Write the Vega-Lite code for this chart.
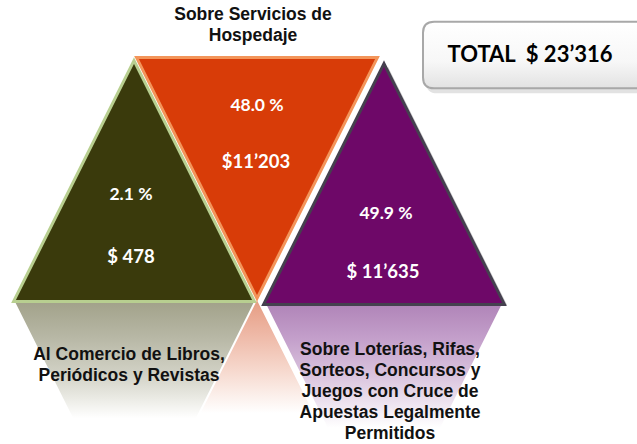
{
  "$schema": "https://vega.github.io/schema/vega-lite/v6.json",
  "width": 637,
  "height": 444,
  "autosize": {"type": "none"},
  "padding": 0,
  "background": "white",
  "config": {"view": {"stroke": null}},
  "datasets": {
    "cats": [
      {"slot": 0, "cat": "Libros", "dir": "up", "pct": "2.1 %", "amount": "$ 478", "value": 478, "label": "Al Comercio de Libros,\nPeriódicos y Revistas"},
      {"slot": 1, "cat": "Hospedaje", "dir": "down", "pct": "48.0 %", "amount": "$11’203", "value": 11203, "label": "Sobre Servicios de\nHospedaje"},
      {"slot": 2, "cat": "Loterias", "dir": "up", "pct": "49.9 %", "amount": "$ 11’635", "value": 11635, "label": "Sobre Loterías, Rifas,\nSorteos, Concursos y\nJuegos con Cruce de\nApuestas Legalmente\nPermitidos"}
    ],
    "total": [{"name": "TOTAL", "text": "TOTAL\u00a0 $ 23’316", "value": 23316}]
  },
  "resolve": {"scale": {"x": "independent", "y": "independent", "color": "independent", "shape": "independent", "stroke": "independent"}},
  "layer": [
    {
      "data": {"name": "cats"},
      "transform": [{"filter": "datum.slot == 0"}],
      "mark": {"type": "point", "filled": true, "shape": "M-1,-1L1,-1L0,1Z", "size": 58564, "clip": true, "opacity": 1, "stroke": "white", "strokeWidth": 2,
        "fill": {"gradient": "linear", "x1": 0, "y1": 0, "x2": 0, "y2": 1, "stops": [{"offset": 0, "color": "#a2a28a"}, {"offset": 0.15, "color": "#b8b8a6"}, {"offset": 0.3, "color": "#d2d2c6"}, {"offset": 0.4, "color": "#ebebe5"}, {"offset": 0.48, "color": "#ffffff"}]}},
      "encoding": {
        "x": {"field": "slot", "type": "quantitative", "scale": {"domain": [0, 1], "range": [135, 260]}, "axis": null},
        "y": {"field": "slot", "type": "quantitative", "scale": {"domain": [0, 1], "range": [423, 423]}, "axis": null}
      }
    },
    {
      "data": {"name": "cats"},
      "transform": [{"filter": "datum.slot == 1"}],
      "mark": {"type": "point", "filled": true, "shape": "M0,-1L1,1L-1,1Z", "size": 57600, "clip": true, "opacity": 1, "stroke": "white", "strokeWidth": 2,
        "fill": {"gradient": "linear", "x1": 0, "y1": 0, "x2": 0, "y2": 1, "stops": [{"offset": 0, "color": "#e59a80"}, {"offset": 0.15, "color": "#eeb8a6"}, {"offset": 0.3, "color": "#f6d8cd"}, {"offset": 0.4, "color": "#fbeee9"}, {"offset": 0.48, "color": "#ffffff"}]}},
      "encoding": {
        "x": {"field": "slot", "type": "quantitative", "scale": {"domain": [1, 2], "range": [257, 384]}, "axis": null},
        "y": {"field": "slot", "type": "quantitative", "scale": {"domain": [1, 2], "range": [418, 418]}, "axis": null}
      }
    },
    {
      "data": {"name": "cats"},
      "transform": [{"filter": "datum.slot == 2"}],
      "mark": {"type": "point", "filled": true, "shape": "M-1,-1L1,-1L0,1Z", "size": 56644, "clip": true, "opacity": 1, "stroke": "white", "strokeWidth": 2,
        "fill": {"gradient": "linear", "x1": 0, "y1": 0, "x2": 0, "y2": 1, "stops": [{"offset": 0, "color": "#b084b8"}, {"offset": 0.15, "color": "#c4a0cb"}, {"offset": 0.3, "color": "#dac4de"}, {"offset": 0.42, "color": "#eee4f0"}, {"offset": 0.52, "color": "#ffffff"}]}},
      "encoding": {
        "x": {"field": "slot", "type": "quantitative", "scale": {"domain": [1, 2], "range": [257, 384]}, "axis": null},
        "y": {"field": "slot", "type": "quantitative", "scale": {"domain": [1, 2], "range": [423, 423]}, "axis": null}
      }
    },
    {
      "data": {"name": "cats"},
      "transform": [{"filter": "datum.slot == 2"}],
      "mark": {"type": "point", "filled": true, "shape": "M0,-1L1,1L-1,1Z", "size": 56644, "fill": "#555555", "opacity": 0.35, "strokeWidth": 0},
      "encoding": {
        "x": {"field": "slot", "type": "quantitative", "scale": {"domain": [1, 2], "range": [262, 388]}, "axis": null},
        "y": {"field": "slot", "type": "quantitative", "scale": {"domain": [1, 2], "range": [186, 186]}, "axis": null}
      }
    },
    {
      "data": {"name": "cats"},
      "mark": {"type": "point", "filled": true, "size": 58000, "strokeWidth": 3, "opacity": 1},
      "encoding": {
        "x": {"field": "slot", "type": "quantitative", "scale": {"domain": [0, 1, 2], "range": [134, 257, 384]}, "axis": null},
        "y": {"field": "slot", "type": "quantitative", "scale": {"domain": [0, 1, 2], "range": [181, 178, 184]}, "axis": null},
        "shape": {"field": "dir", "type": "nominal", "scale": {"domain": ["up", "down"], "range": ["M0,-1L1,1L-1,1Z", "M-1,-1L1,-1L0,1Z"]}, "legend": null},
        "color": {"field": "cat", "type": "nominal", "scale": {"domain": ["Libros", "Hospedaje", "Loterias"], "range": ["#3a3a0c", "#d83c08", "#6e0868"]}, "legend": null},
        "stroke": {"field": "cat", "type": "nominal", "scale": {"domain": ["Libros", "Hospedaje", "Loterias"], "range": ["#b8cf90", "#f3955a", "#45404f"]}, "legend": null}
      }
    },
    {
      "data": {"name": "cats"},
      "mark": {"type": "text", "font": "Lato", "fontWeight": "bold", "fontSize": 17.5, "fill": "white", "align": "center", "baseline": "middle"},
      "encoding": {
        "text": {"field": "pct"},
        "x": {"field": "slot", "type": "quantitative", "scale": {"domain": [0, 1, 2], "range": [131, 257, 386]}, "axis": null},
        "y": {"field": "slot", "type": "quantitative", "scale": {"domain": [0, 1, 2], "range": [195, 106, 214]}, "axis": null}
      }
    },
    {
      "data": {"name": "cats"},
      "mark": {"type": "text", "font": "Lato", "fontWeight": "bold", "fontSize": 18.5, "fill": "white", "align": "center", "baseline": "middle"},
      "encoding": {
        "text": {"field": "amount"},
        "x": {"field": "slot", "type": "quantitative", "scale": {"domain": [0, 1, 2], "range": [131, 256, 383]}, "axis": null},
        "y": {"field": "slot", "type": "quantitative", "scale": {"domain": [0, 1, 2], "range": [257, 162, 272]}, "axis": null}
      }
    },
    {
      "data": {"name": "cats"},
      "mark": {"type": "text", "font": "Liberation Sans", "fontWeight": "bold", "fontSize": 17.5, "fill": "#111111", "align": "center", "baseline": "middle", "lineBreak": "\n", "lineHeight": 21},
      "encoding": {
        "text": {"field": "label"},
        "x": {"field": "slot", "type": "quantitative", "scale": {"domain": [0, 1, 2], "range": [129, 253, 390]}, "axis": null},
        "y": {"field": "slot", "type": "quantitative", "scale": {"domain": [0, 1, 2], "range": [355, 15, 350]}, "axis": null}
      }
    },
    {
      "data": {"name": "total"},
      "mark": {"type": "point", "filled": true, "shape": "M-0.9,-0.3L1,-0.3L1,0.3L-0.9,0.3Q-1,0.3,-1,0.2L-1,-0.2Q-1,-0.3,-0.9,-0.3Z", "size": 49284, "fill": "#cfcfcf", "opacity": 0.6, "clip": true},
      "encoding": {
        "x": {"field": "name", "type": "nominal", "scale": {"type": "point", "range": [524, 550]}, "axis": null},
        "y": {"field": "name", "type": "nominal", "scale": {"type": "point", "range": [47, 73]}, "axis": null}
      }
    },
    {
      "data": {"name": "total"},
      "mark": {"type": "point", "filled": true, "shape": "M-0.9,-0.3L1,-0.3L1,0.3L-0.9,0.3Q-1,0.3,-1,0.2L-1,-0.2Q-1,-0.3,-0.9,-0.3Z", "size": 49284, "opacity": 1, "clip": true, "stroke": "#a8a8a8", "strokeWidth": 2,
        "fill": {"gradient": "linear", "x1": 0, "y1": 0, "x2": 0, "y2": 1, "stops": [{"offset": 0, "color": "#ffffff"}, {"offset": 0.6, "color": "#f7f7f7"}, {"offset": 1, "color": "#e2e2e2"}]}},
      "encoding": {
        "x": {"field": "name", "type": "nominal", "scale": {"type": "point", "range": [521, 547]}, "axis": null},
        "y": {"field": "name", "type": "nominal", "scale": {"type": "point", "range": [42, 68]}, "axis": null}
      }
    },
    {
      "data": {"name": "total"},
      "mark": {"type": "text", "font": "Lato", "fontWeight": "bold", "fontSize": 22, "fill": "#000000", "align": "center", "baseline": "middle"},
      "encoding": {
        "text": {"field": "text"},
        "x": {"field": "name", "type": "nominal", "scale": {"type": "point", "range": [517, 543]}, "axis": null},
        "y": {"field": "name", "type": "nominal", "scale": {"type": "point", "range": [42, 68]}, "axis": null}
      }
    }
  ]
}
